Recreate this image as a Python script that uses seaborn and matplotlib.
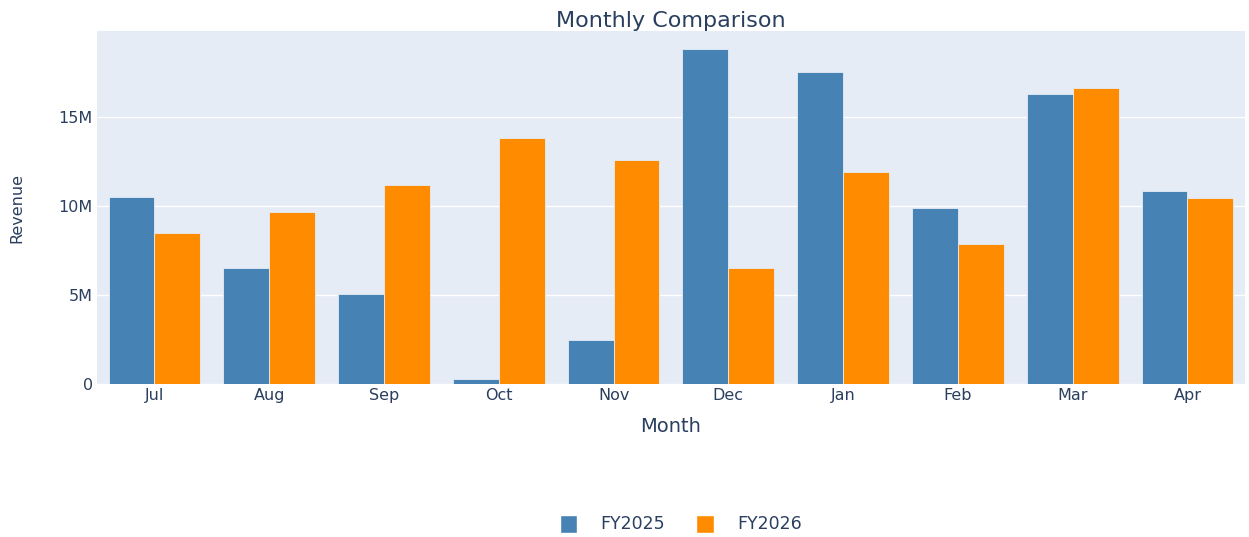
import pandas as pd
import matplotlib.pyplot as plt
import seaborn as sns
from matplotlib.ticker import FuncFormatter
from matplotlib.patches import Patch

months = ["Jul", "Aug", "Sep", "Oct", "Nov", "Dec", "Jan", "Feb", "Mar", "Apr"]
fy2025 = [10.52, 6.50, 5.05, 0.28, 2.47, 18.82, 17.53, 9.89, 16.29, 10.84]
fy2026 = [8.48, 9.66, 11.18, 13.82, 12.58, 6.52, 11.91, 7.87, 16.63, 10.45]
series = ["FY2025", "FY2026"]
colors = {"FY2025": "steelblue", "FY2026": "darkorange"}

df = pd.DataFrame({
    "Month": months * 2,
    "Revenue": [v * 1e6 for v in fy2025 + fy2026],
    "Year": ["FY2025"] * len(months) + ["FY2026"] * len(months),
})

sns.set_style("white")
plt.rcParams["font.family"] = ["DejaVu Sans"]
text_color = "#2a3f5f"

fig = plt.figure(figsize=(12.49, 5.37), dpi=100)
ax = fig.add_axes([0.0777, 0.285, 0.919, 0.657])
ax.set_facecolor("#E5ECF6")

sns.barplot(data=df, x="Month", y="Revenue", hue="Year", order=months,
            hue_order=series, palette=colors, width=0.8, gap=0,
            edgecolor="#E5ECF6", linewidth=0.6, saturation=1, ax=ax)

ax.set_ylim(0, 19.83e6)
ax.set_xlim(-0.5, len(months) - 0.5)
ax.set_yticks([0, 5e6, 10e6, 15e6])
ax.yaxis.set_major_formatter(FuncFormatter(lambda v, p: "0" if v == 0 else f"{v/1e6:.0f}M"))
ax.grid(axis="y", color="white", linewidth=1)
ax.set_axisbelow(True)
for s in ax.spines.values():
    s.set_visible(False)
ax.tick_params(axis="both", length=0, labelsize=11.5, labelcolor=text_color, pad=3)

ax.set_title("Monthly Comparison", fontsize=16, color=text_color, pad=3)
ax.set_xlabel("Month", fontsize=14, color=text_color, labelpad=10)
ax.set_ylabel("Revenue", fontsize=11.5, color=text_color)
ax.yaxis.set_label_coords(-0.0636, 0.5)

ax.legend_.remove()
handles = [Patch(facecolor=colors[s], edgecolor="white") for s in series]
fig.legend(handles, series, loc="center", bbox_to_anchor=(0.545, 0.024), ncol=2,
           frameon=False, fontsize=12.5, labelcolor=text_color,
           handlelength=1.0, handleheight=1.2, columnspacing=1.8, handletextpad=1.35)

fig.savefig("out.png", dpi=100)
